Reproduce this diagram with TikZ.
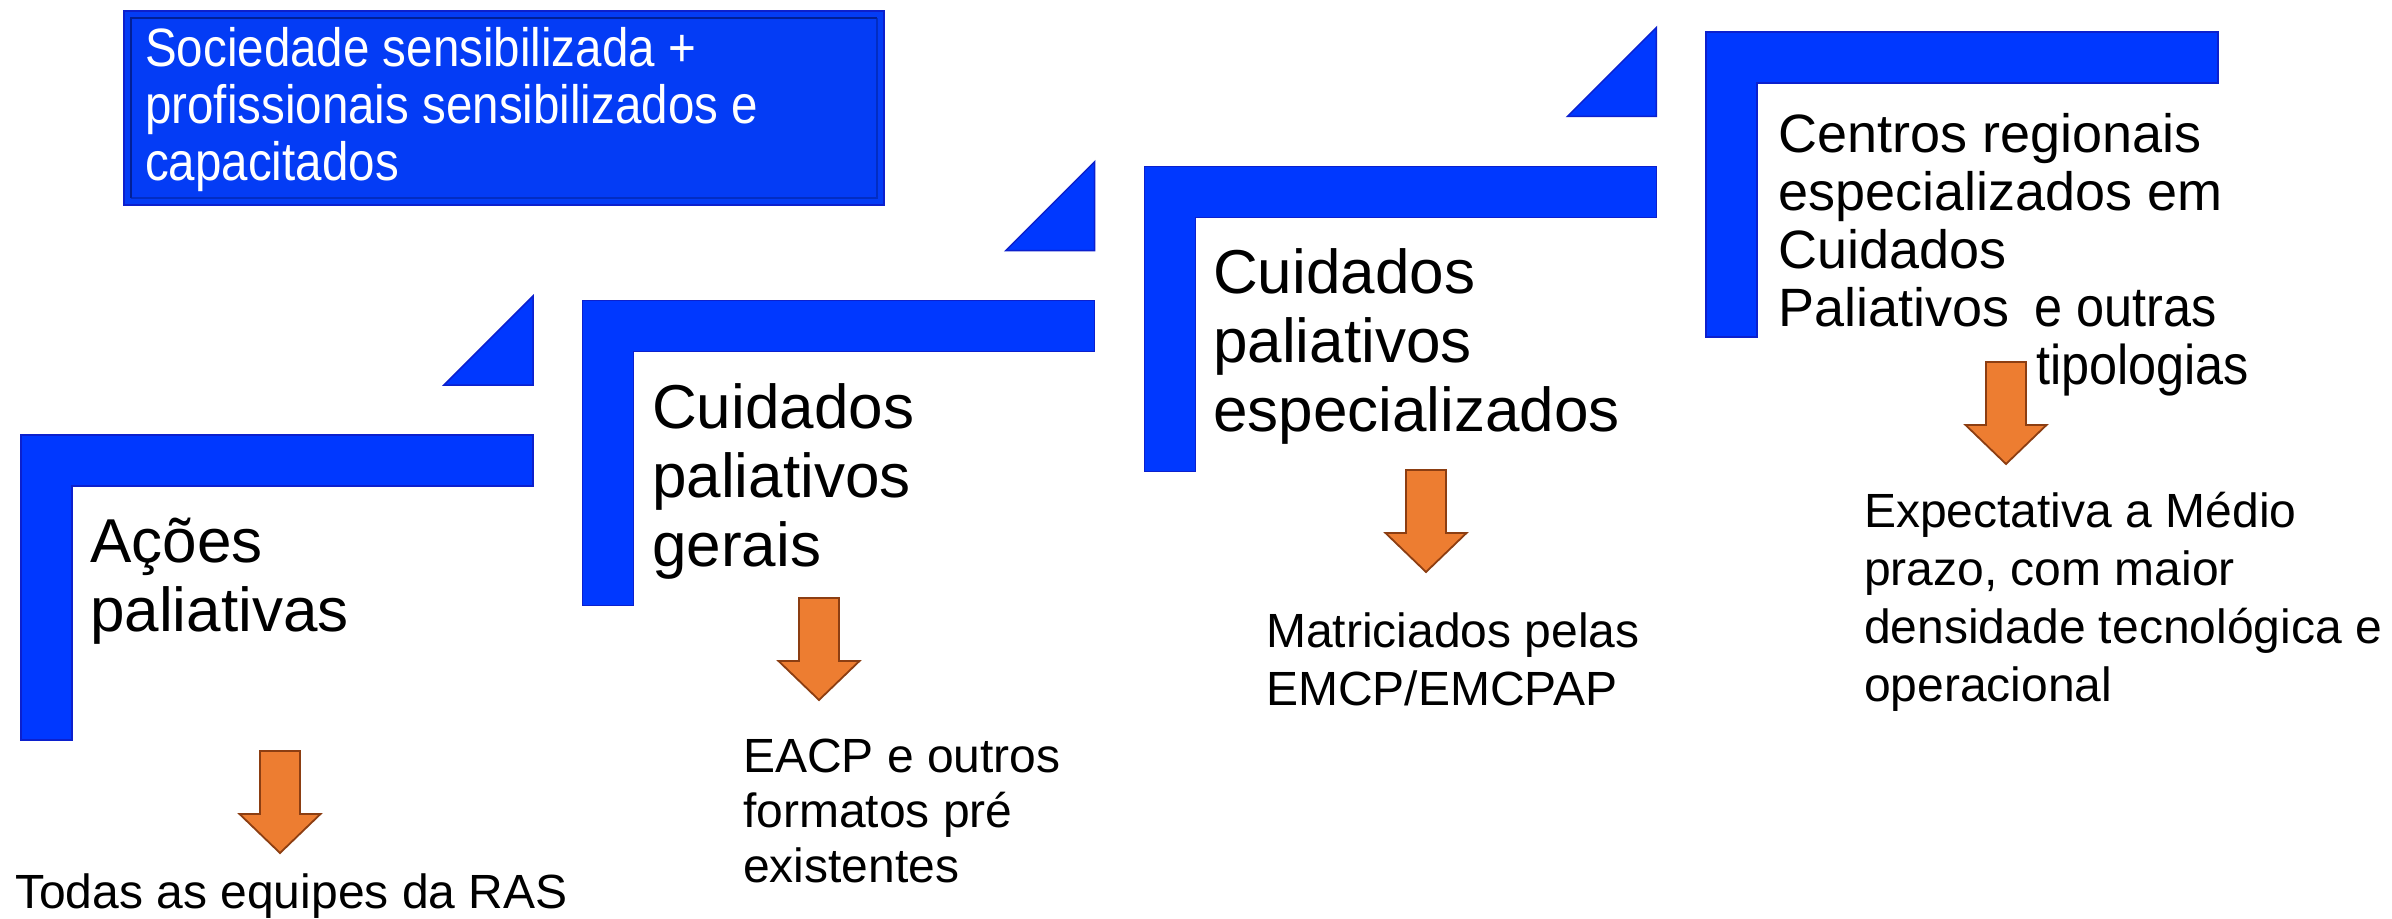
\documentclass[tikz,border=0pt]{standalone}
\usepackage{fontspec}
\usetikzlibrary{calc}
\setmainfont{Liberation Sans}
\newfontfamily\narrowfont[FakeStretch=0.88]{Liberation Sans}
\newfontfamily\narrowfontb[FakeStretch=0.9]{Liberation Sans}
\definecolor{lblue}{RGB}{0,56,255}
\definecolor{lblueedge}{RGB}{12,32,205}
\definecolor{boxblue}{RGB}{4,60,245}
\definecolor{boxdark}{RGB}{0,20,110}
\definecolor{arrfill}{RGB}{237,125,49}
\definecolor{arredge}{RGB}{140,62,18}
\tikzset{
  lfill/.style={fill=lblue, draw=lblueedge, line width=1.5pt, line join=miter},
  arrstyle/.style={fill=arrfill, draw=arredge, line width=1.8pt, line join=miter},
  lshape/.pic={\path[lfill] (0,0) -- (512,0) -- (512,51) -- (51,51) -- (51,305) -- (0,305) -- cycle;},
  stairtri/.pic={\path[lfill] (0,-139) -- (0,-50) -- (-89,-50) -- cycle;},
  downarr/.pic={\path[arrstyle] (-20,0) -- (20,0) -- (20,63) -- (40.5,63) -- (0,102) -- (-40.5,63) -- (-20,63) -- cycle;},
  heading/.style={anchor=base west, inner sep=0pt, align=left, font=\fontsize{62}{69}\selectfont},
  headingsmall/.style={anchor=base west, inner sep=0pt, align=left, font=\fontsize{54}{58}\selectfont},
  narrowtext/.style={anchor=base west, inner sep=0pt, align=left, font=\narrowfont\fontsize{54}{57}\selectfont},
  narrowtextb/.style={anchor=base west, inner sep=0pt, align=left, font=\narrowfontb\fontsize{56}{57}\selectfont},
  subtext/.style={anchor=base west, inner sep=0pt, align=left},
  topboxstyle/.style={rectangle, fill=boxblue, draw=lblueedge, line width=2pt, inner sep=0pt, anchor=north west, minimum width=760pt, minimum height=194pt}
}
\begin{document}
\begin{tikzpicture}[x=1pt, y=-1pt]
\useasboundingbox (0,0) rectangle (2392,918);
% top box
\node[topboxstyle] (topbox) at (123,10) {};
\coordinate (bi1) at ($(topbox.south west)+(8,-8)$);
\coordinate (bi2) at ($(topbox.north east)+(-8,8)$);
\draw[boxdark, line width=2.5pt, opacity=0.7] (bi1) |- (bi2);
\draw[boxdark!60!boxblue, line width=2pt, opacity=0.6] (bi1) -| (bi2);
% (anchor base = baseline of the last line)
\node[narrowtext, text=white] (boxtext) at (145,180) {Sociedade sensibilizada +\\profissionais sensibilizados e\\capacitados};
% L shapes
\pic at (21,435) {lshape};
\pic at (582.7,300.7) {lshape};
\pic at (1144.4,166.4) {lshape};
\pic at (1706,32) {lshape};
% triangles
\pic at (533,435) {stairtri};
\pic at (1094.7,300.7) {stairtri};
\pic at (1656.4,166.4) {stairtri};
% headings
\node[heading] (h1) at (90,631) {Ações\\paliativas};
\node[heading] (h2) at (652,566) {Cuidados\\paliativos\\gerais};
\node[heading] (h3) at (1213,431) {Cuidados\\paliativos\\especializados};
\node[headingsmall] (h4) at (1778,326) {Centros regionais\\especializados em\\Cuidados\\Paliativos};
\node[narrowtextb] (h4a) at (2034,326) {e outras};
\node[narrowtextb] (h4b) at (2036,384) {tipologias};
% arrows
\pic at (280,751) {downarr};
\pic at (819,598) {downarr};
\pic at (1426,470) {downarr};
\pic at (2006,362) {downarr};
% sub texts
\node[subtext, font=\fontsize{48}{57}\selectfont] (s1) at (15,908) {Todas as equipes da RAS};
\node[subtext, font=\fontsize{48}{55}\selectfont] (s2) at (743,882) {EACP e outros\\formatos pré\\existentes};
\node[subtext, font=\fontsize{48}{58}\selectfont] (s3) at (1266,705) {Matriciados pelas\\EMCP/EMCPAP};
\node[subtext, font=\fontsize{48}{58}\selectfont] (s4) at (1864,701) {Expectativa a Médio\\prazo, com maior\\densidade tecnológica e\\operacional};
\end{tikzpicture}
\end{document}
